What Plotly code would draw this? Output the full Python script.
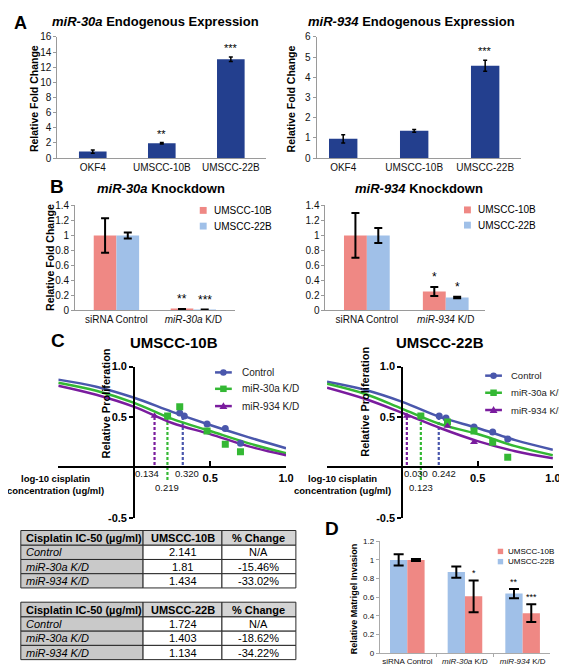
import plotly.graph_objects as go

W, H = 567, 665
FONT = "Liberation Sans, Arial, Helvetica, sans-serif"


def px(x):
    return x / W


def py(y):
    return 1 - y / H


# ---------------- data ----------------
# Panel A
a_cats = ["OKF4", "UMSCC-10B", "UMSCC-22B"]
a30_vals = [0.85, 1.95, 13.05]
a30_err = [0.2, 0.1, 0.3]
a30_sig = ["", "**", "***"]
a934_vals = [0.95, 1.35, 4.57]
a934_err = [0.2, 0.07, 0.27]
a934_sig = ["", "", "***"]

# Panel B
b30_cats = ["siRNA Control", "<i>miR-30a</i> K/D"]
b30_10b = [1.0, 0.012]
b30_10b_err = [0.23, 0.004]
b30_22b = [1.0, 0.006]
b30_22b_err = [0.04, 0.003]
b30_sig_10b = ["", "**"]
b30_sig_22b = ["", "***"]

b934_cats = ["siRNA Control", "<i>miR-934</i> K/D"]
b934_10b = [1.0, 0.25]
b934_10b_err = [0.3, 0.06]
b934_22b = [1.0, 0.17]
b934_22b_err = [0.1, 0.01]
b934_sig_10b = ["", "*"]
b934_sig_22b = ["", "*"]

# Panel C (log10 cisplatin concentration vs relative proliferation)
c_series = ["Control", "miR-30a K/D", "miR-934 K/D"]
conc = [-0.5, -0.25, 0.0, 0.25, 0.5, 0.75, 1.0]
c10_fit = [
    [0.87, 0.80, 0.69, 0.55, 0.42, 0.30, 0.19],
    [0.84, 0.76, 0.64, 0.48, 0.36, 0.24, 0.14],
    [0.81, 0.72, 0.60, 0.44, 0.33, 0.21, 0.12],
]
c10_pts_x = [
    [0.30, 0.33, 0.48, 0.60, 0.70],
    [0.22, 0.30, 0.48, 0.60, 0.70],
    [0.134],
]
c10_pts_y = [
    [0.54, 0.51, 0.43, 0.385, 0.24],
    [0.51, 0.60, 0.36, 0.23, 0.155],
    [0.51],
]
c10_ic50 = [0.320, 0.219, 0.134]

c22_fit = [
    [0.85, 0.77, 0.65, 0.50, 0.39, 0.27, 0.175],
    [0.83, 0.73, 0.58, 0.43, 0.33, 0.21, 0.12],
    [0.79, 0.68, 0.54, 0.39, 0.26, 0.16, 0.09],
]
c22_pts_x = [
    [0.245, 0.29, 0.476, 0.60, 0.70],
    [0.123, 0.30, 0.476, 0.60, 0.70],
    [0.030, 0.30, 0.476],
]
c22_pts_y = [
    [0.51, 0.49, 0.40, 0.35, 0.28],
    [0.51, 0.45, 0.36, 0.25, 0.10],
    [0.51, 0.41, 0.25],
]
c22_ic50 = [0.242, 0.123, 0.030]
c_half = 0.5
c_drop_bottom = [0.0, -0.14, 0.0]

# Tables
t_header1 = ["Cisplatin IC-50 (µg/ml)", "UMSCC-10B", "% Change"]
t_header2 = ["Cisplatin IC-50 (µg/ml)", "UMSCC-22B", "% Change"]
t_rows = ["Control", "miR-30a K/D", "miR-934 K/D"]
t1_ic50 = ["2.141", "1.81", "1.434"]
t1_change = ["N/A", "-15.46%", "-33.02%"]
t2_ic50 = ["1.724", "1.403", "1.134"]
t2_change = ["N/A", "-18.62%", "-34.22%"]

# Panel D
d_cats = ["siRNA Control", "<i>miR-30a</i> K/D", "<i>miR-934</i> K/D"]
d_22b = [1.0, 0.87, 0.64]
d_22b_err = [0.06, 0.06, 0.05]
d_10b = [1.0, 0.61, 0.43]
d_10b_err = [0.01, 0.17, 0.095]
d_sig_22b = ["", "", "**"]
d_sig_10b = ["", "*", "***"]

# ---------------- style ----------------
NAVY = "#233f8e"
RED = "#ef8884"
BLUE = "#a0c0e8"
C_COLORS = ["#4a57ac", "#34b834", "#7a1c9e"]
C_SYMBOLS = ["circle", "square", "triangle-up"]
AXGRAY = "#9a9a9a"

fig = go.Figure()
annotations = []
shapes = []


def txt(text, x, y, size, color="black", xanchor="center", yanchor="middle",
        angle=0, xref="paper", yref="paper", xshift=0, yshift=0):
    if xref == "paper":
        x = px(x)
    if yref == "paper":
        y = py(y)
    annotations.append(dict(text=text, x=x, y=y, xref=xref, yref=yref,
                            showarrow=False, xanchor=xanchor, yanchor=yanchor,
                            textangle=angle, xshift=xshift, yshift=yshift,
                            font=dict(size=size, color=color, family=FONT)))


def bar(xs, vals, errs, color, w, off, xa, ya, thick, cap):
    fig.add_trace(go.Bar(
        x=xs, y=vals, width=w, offset=off,
        marker=dict(color=color, line=dict(width=0)),
        error_y=dict(type="data", array=errs, color="black",
                     thickness=thick, width=cap),
        xaxis=xa, yaxis=ya, showlegend=False, hoverinfo="skip"))


def stars(sig, vals, errs, dx, xa, ya, size, yshift=0):
    for i, s in enumerate(sig):
        if s:
            txt(s, i + dx, vals[i] + errs[i], size, xanchor="center",
                yanchor="bottom", xref=xa, yref=ya, yshift=yshift)


# ---------------- Panel A ----------------
bar(list(range(len(a_cats))), a30_vals, a30_err, NAVY, 0.4, None, "x", "y", 1.5, 2)
bar(list(range(len(a_cats))), a934_vals, a934_err, NAVY, 0.4, None, "x2", "y2", 1.5, 2)
stars(a30_sig, a30_vals, a30_err, 0, "x", "y", 11, 1)
stars(a934_sig, a934_vals, a934_err, 0, "x2", "y2", 11, 1)

# ---------------- Panel B ----------------
WB = 0.295
bar([0, 1], b30_10b, b30_10b_err, RED, WB, -WB, "x3", "y3", 2, 4)
bar([0, 1], b30_22b, b30_22b_err, BLUE, WB, 0, "x3", "y3", 2, 4)
WB2 = 0.29
bar([0, 1], b934_10b, b934_10b_err, RED, WB2, -WB2, "x4", "y4", 2, 4)
bar([0, 1], b934_22b, b934_22b_err, BLUE, WB2, 0, "x4", "y4", 2, 4)
stars(b30_sig_10b, b30_10b, b30_10b_err, -WB / 2, "x3", "y3", 12, 1)
stars(b30_sig_22b, b30_22b, b30_22b_err, WB / 2, "x3", "y3", 12, 1)
stars(b934_sig_10b, b934_10b, b934_10b_err, -WB2 / 2, "x4", "y4", 12, 1)
stars(b934_sig_22b, b934_22b, b934_22b_err, WB2 / 2, "x4", "y4", 12, 1)

# ---------------- Panel C ----------------
for (fits, ptsx, ptsy, ics, xa, ya) in [
        (c10_fit, c10_pts_x, c10_pts_y, c10_ic50, "x5", "y5"),
        (c22_fit, c22_pts_x, c22_pts_y, c22_ic50, "x6", "y6")]:
    for k in range(len(c_series)):
        fig.add_trace(go.Scatter(
            x=[ics[k], ics[k]], y=[c_half, c_drop_bottom[k]], mode="lines",
            line=dict(color=C_COLORS[k], width=2.2, dash="3px,2px"),
            xaxis=xa, yaxis=ya, showlegend=False, hoverinfo="skip"))
    for k in range(len(c_series)):
        fig.add_trace(go.Scatter(
            x=conc, y=fits[k], mode="lines",
            line=dict(color=C_COLORS[k], width=2.5, shape="spline"),
            xaxis=xa, yaxis=ya, showlegend=False, hoverinfo="skip"))
    for k in range(len(c_series)):
        fig.add_trace(go.Scatter(
            x=ptsx[k], y=ptsy[k], mode="markers",
            marker=dict(color=C_COLORS[k], symbol=C_SYMBOLS[k], size=7),
            xaxis=xa, yaxis=ya, showlegend=False, hoverinfo="skip"))

# IC50 value labels below x-axis
for ics, xa, shifts in [(c10_ic50, "x5", [4, 0, -8]), (c22_ic50, "x6", [5, 0, 9])]:
    rows = [468, 482, 468]
    for k, v in enumerate(ics):
        txt("%.3f" % v, v, rows[k], 9.5, color="#111", xref=xa, xshift=shifts[k])

# ---------------- Panel D ----------------
WD = 0.3
bar([0, 1, 2], d_22b, d_22b_err, BLUE, WD, -WD, "x7", "y7", 2, 5)
bar([0, 1, 2], d_10b, d_10b_err, RED, WD, 0, "x7", "y7", 2, 5)
stars(d_sig_22b, d_22b, d_22b_err, -WD / 2, "x7", "y7", 9, 0)
stars(d_sig_10b, d_10b, d_10b_err, WD / 2, "x7", "y7", 9, 0)

# ---------------- Tables (drawn as cells) ----------------
T_COLS = [13, 137, 217, 292]
T_ROWH = [15, 14.5, 14.5, 14.5]
T_GRAY = "#c9c9c9"
T_HGRAY = "#d4d4d4"


def table(header, col2, col3, top):
    rows_text = [["<b>%s</b>" % h for h in header]]
    for r, a, b in zip(t_rows, col2, col3):
        rows_text.append(["<i>%s</i>" % r, a, b])
    y = top
    for ri, rowvals in enumerate(rows_text):
        h = T_ROWH[ri]
        for ci in range(3):
            if ri == 0:
                fill = T_GRAY if ci == 0 else T_HGRAY
            else:
                fill = T_GRAY if ci == 0 else "white"
            shapes.append(dict(type="rect", xref="paper", yref="paper",
                               x0=px(T_COLS[ci]), x1=px(T_COLS[ci + 1]),
                               y0=py(y + h), y1=py(y), fillcolor=fill,
                               line=dict(color="#2a2a2a", width=1), layer="below"))
            if ci == 0:
                txt(rowvals[ci], T_COLS[0] + 3, y + h / 2, 11, xanchor="left")
            else:
                txt(rowvals[ci], (T_COLS[ci] + T_COLS[ci + 1]) / 2, y + h / 2, 11)
        y += h


table(t_header1, t1_ic50, t1_change, 526)
table(t_header2, t2_ic50, t2_change, 599)

# ---------------- Text: titles, labels ----------------
txt("<b>A</b>", 13, 9, 18)
txt("<b>B</b>", 50, 176, 19)
txt("<b>C</b>", 51, 333, 19)
txt("<b>D</b>", 329, 524, 19)

txt("<b><i>miR-30a</i> Endogenous Expression</b>", 150, 8, 13)
txt("<b><i>miR-934</i> Endogenous Expression</b>", 409, 8, 13)
txt("<b>Relative Fold Change</b>", 27, 86, 10.5, angle=-90)
txt("<b>Relative Fold Change</b>", 287, 86, 10.5, angle=-90)

txt("<b><i>miR-30a</i> Knockdown</b>", 155, 178, 13)
txt("<b><i>miR-934</i> Knockdown</b>", 417, 178, 13)
txt("<b>Relative Fold Change</b>", 42, 248, 10.5, angle=-90)

txt("<b>UMSCC-10B</b>", 168, 335, 15)
txt("<b>UMSCC-22B</b>", 438, 335, 15)
txt("<b>Relative Proliferation</b>", 99, 397, 11, angle=-90)
txt("<b>Relative Proliferation</b>", 362, 395, 11, angle=-90)
for cx in [48, 339]:
    txt("<b>log-10 cisplatin</b>", cx, 473, 9.5)
    txt("<b>concentration (ug/ml)</b>", cx, 485, 9.5)

txt("<b>Relative Matrigel Invasion</b>", 351, 596, 9, angle=-90)

# ---------------- Legends (manual) ----------------
def square_legend(labels, colors, cx, cys, size, tx, fsize):
    for lab, col, cy in zip(labels, colors, cys):
        shapes.append(dict(type="rect", xref="paper", yref="paper",
                           x0=px(cx - size / 2), x1=px(cx + size / 2),
                           y0=py(cy + size / 2), y1=py(cy - size / 2),
                           fillcolor=col, line=dict(width=0)))
        txt(lab, tx, cy, fsize, xanchor="left")


square_legend(["UMSCC-10B", "UMSCC-22B"], [RED, BLUE], 198, [200, 216], 7, 207, 10)
square_legend(["UMSCC-10B", "UMSCC-22B"], [RED, BLUE], 466, [199.5, 215], 7, 475, 10)
square_legend(["UMSCC-10B", "UMSCC-22B"], [RED, BLUE], 499.5, [547.3, 557.7], 5.5, 505, 8)


def line_legend(x0, x1, cys, tx, fsize):
    for k, cy in enumerate(cys):
        col = C_COLORS[k]
        shapes.append(dict(type="line", xref="paper", yref="paper",
                           x0=px(x0), x1=px(x1), y0=py(cy), y1=py(cy),
                           line=dict(color=col, width=2.5)))
        cx = (x0 + x1) / 2
        s = 3.3
        if k == 0:
            shapes.append(dict(type="circle", xref="paper", yref="paper",
                               x0=px(cx - s), x1=px(cx + s), y0=py(cy + s), y1=py(cy - s),
                               fillcolor=col, line=dict(width=0)))
        elif k == 1:
            shapes.append(dict(type="rect", xref="paper", yref="paper",
                               x0=px(cx - s), x1=px(cx + s), y0=py(cy + s), y1=py(cy - s),
                               fillcolor=col, line=dict(width=0)))
        else:
            path = "M%f,%f L%f,%f L%f,%f Z" % (px(cx), py(cy - 4), px(cx - 4), py(cy + 3),
                                               px(cx + 4), py(cy + 3))
            shapes.append(dict(type="path", xref="paper", yref="paper", path=path,
                               fillcolor=col, line=dict(width=0)))
        txt(c_series[k], tx, cy, fsize, color="#222", xanchor="left")


line_legend(210, 227, [365, 381.7, 399.3], 235, 10)
line_legend(484, 501, [368.3, 385.7, 403.3], 508, 9.5)

# ---------------- Axes ----------------
off = dict(showgrid=False, zeroline=False)


def cat_x(domain, rng, vals, text, anchor, fsize=10, color=AXGRAY):
    return dict(domain=[px(domain[0]), px(domain[1])], range=rng, tickvals=vals,
                ticktext=text, anchor=anchor, showline=True, linecolor=color,
                linewidth=1, ticks="", tickfont=dict(size=fsize, color="#111", family=FONT), **off)


def val_y(domain, rng, dtick, anchor, fsize=10, color=AXGRAY):
    return dict(domain=[py(domain[1]), py(domain[0])], range=rng, dtick=dtick,
                anchor=anchor, showline=True, linecolor=color, linewidth=1,
                ticks="outside", ticklen=3, tickcolor=color,
                tickfont=dict(size=fsize, color="#111", family=FONT), **off)


def c_x(domain, ypos):
    return dict(domain=[px(domain[0]), px(domain[1])], range=[-0.5, 1.0],
                anchor="free", position=py(ypos), showline=True, linecolor="black",
                linewidth=2, ticks="inside", ticklen=5, tickwidth=2, tickcolor="black",
                tickvals=[-0.5, 0.5, 1.0], ticktext=["", "<b>0.5</b>", "<b>1.0</b>"],
                tickfont=dict(size=11, color="black", family=FONT), **off)


def c_y(xpos):
    return dict(domain=[py(513), py(359)], range=[-0.5, 1.0], anchor="free",
                position=px(xpos), showline=True, linecolor="black", linewidth=2,
                ticks="outside", ticklen=4, tickwidth=2, tickcolor="black",
                tickvals=[-0.5, 0.5, 1.0], ticktext=["<b>-0.5</b>", "<b>0.5</b>", "<b>1.0</b>"],
                tickfont=dict(size=11, color="black", family=FONT), **off)


fig.update_layout(
    width=W, height=H, autosize=False,
    margin=dict(l=0, r=0, t=0, b=0),
    paper_bgcolor="white", plot_bgcolor="white",
    barmode="overlay", showlegend=False,
    font=dict(family=FONT, color="black"),
    xaxis=cat_x((50, 262), [-0.514, 2.514], [0, 1, 2], a_cats, "y"),
    yaxis=val_y((23.3, 146.7), [0, 16], 2, "x"),
    xaxis2=cat_x((313, 520), [-0.375, 2.5], [0, 1, 2], a_cats, "y2"),
    yaxis2=val_y((23.3, 146.7), [0, 6], 1, "x2"),
    xaxis3=cat_x((68, 230), [-0.538, 1.538], [0, 1], b30_cats, "y3"),
    yaxis3=val_y((195, 301.7), [0, 1.4], 0.2, "x3"),
    xaxis4=cat_x((322, 484), [-0.525, 1.5], [0, 1], b934_cats, "y4"),
    yaxis4=val_y((195, 301.7), [0, 1.4], 0.2, "x4"),
    xaxis5=c_x((51, 282), 461.7),
    yaxis5=c_y(128),
    xaxis6=c_x((323.6, 552.7), 461.7),
    yaxis6=c_y(400),
    xaxis7=cat_x((377, 550), [-0.479, 2.479], [0, 1, 2], d_cats, "y7", fsize=8, color="#aaaaaa"),
    yaxis7=val_y((537, 651), [0, 1.2], 0.2, "x7", fsize=8, color="#aaaaaa"),
    annotations=annotations,
    shapes=shapes,
)
fig.update_layout(xaxis7=dict(minor=dict(tickvals=[0.5, 1.5], ticks="outside",
                                         ticklen=3, tickcolor="#aaaaaa")))

fig.write_html("out.html")
